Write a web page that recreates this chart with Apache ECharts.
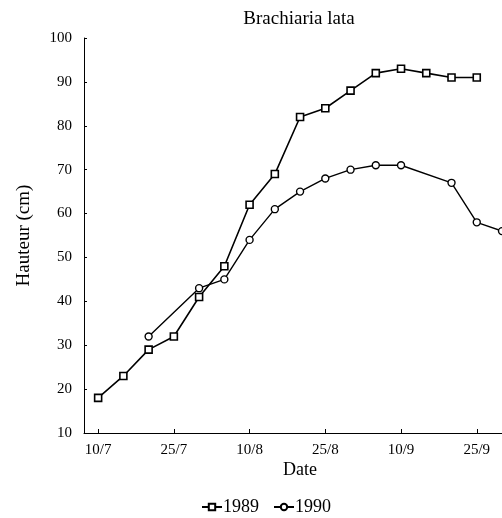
<!DOCTYPE html>
<html>
<head>
<meta charset="utf-8">
<script src="https://cdn.jsdelivr.net/npm/echarts@6/dist/echarts.min.js"></script>
<style>html,body{margin:0;padding:0;background:#fff}#c{width:502px;height:518px}</style>
</head>
<body>
<div id="c"></div>
<script>
// Days counted from 10/7
var days1989 = [0, 5, 10, 15, 20, 25, 30, 35, 40, 45, 50, 55, 60, 65, 70, 75];
var values1989 = [18, 23, 29, 32, 41, 48, 62, 69, 82, 84, 88, 92, 93, 92, 91, 91];
var days1990 = [10, 20, 25, 30, 35, 40, 45, 50, 55, 60, 70, 75, 80];
var values1990 = [32, 43, 45, 54, 61, 65, 68, 70, 71, 71, 67, 58, 56];
var tickDays = [0, 15, 30, 45, 60, 75];
var tickLabels = ['10/7', '25/7', '10/8', '25/8', '10/9', '25/9'];

function pairs(xs, ys) { return xs.map(function (x, i) { return [x, ys[i]]; }); }
var serif = '"Liberation Serif", "DejaVu Serif", serif';

var chart = echarts.init(document.getElementById('c'), null, {renderer: 'canvas'});
chart.setOption({
  animation: false,
  backgroundColor: '#fff',
  textStyle: {fontFamily: serif, color: '#000'},
  grid: {left: 84, right: 0, top: 38, bottom: 85, containLabel: false},
  graphic: [
    {type: 'text', x: 299, y: 19, style: {text: 'Brachiaria lata', font: '19px ' + serif, fill: '#000', textAlign: 'center', textVerticalAlign: 'middle'}},
    {type: 'text', x: 300, y: 470, style: {text: 'Date', font: '18px ' + serif, fill: '#000', textAlign: 'center', textVerticalAlign: 'middle'}}
  ],
  legend: {
    left: 196, top: 493, itemWidth: 20, itemHeight: 8, itemGap: 14,
    textStyle: {fontFamily: serif, fontSize: 18, color: '#000', padding: [0, 0, 0, -4]},
    data: ['1989', '1990']
  },
  xAxis: {
    type: 'value', min: -2.8, max: 80,
    splitLine: {show: false},
    axisLine: {show: true, onZero: false, lineStyle: {color: '#000', width: 1}},
    axisTick: {show: true, inside: true, length: 4, customValues: tickDays, lineStyle: {color: '#000'}},
    axisLabel: {
      customValues: tickDays, margin: 10, fontFamily: serif, fontSize: 15, color: '#000',
      formatter: function (v) { var i = tickDays.indexOf(v); return i >= 0 ? tickLabels[i] : ''; }
    }
  },
  yAxis: {
    type: 'value', min: 10, max: 100, interval: 10,
    name: 'Hauteur (cm)', nameLocation: 'middle', nameGap: 50,
    nameTextStyle: {fontFamily: serif, fontSize: 19, color: '#000'},
    splitLine: {show: false},
    axisLine: {show: true, onZero: false, lineStyle: {color: '#000', width: 1}},
    axisTick: {show: true, inside: true, length: 3, lineStyle: {color: '#000'}},
    axisLabel: {margin: 12, fontFamily: serif, fontSize: 15, color: '#000'}
  },
  series: [
    {
      name: '1989', type: 'line', data: pairs(days1989, values1989),
      symbol: 'rect', symbolSize: 7,
      lineStyle: {color: '#000', width: 1.6},
      itemStyle: {color: '#fff', borderColor: '#000', borderWidth: 1.6}
    },
    {
      name: '1990', type: 'line', data: pairs(days1990, values1990),
      symbol: 'circle', symbolSize: 7,
      lineStyle: {color: '#000', width: 1.4},
      itemStyle: {color: '#fff', borderColor: '#000', borderWidth: 1.4}
    }
  ]
});
</script>
</body>
</html>
